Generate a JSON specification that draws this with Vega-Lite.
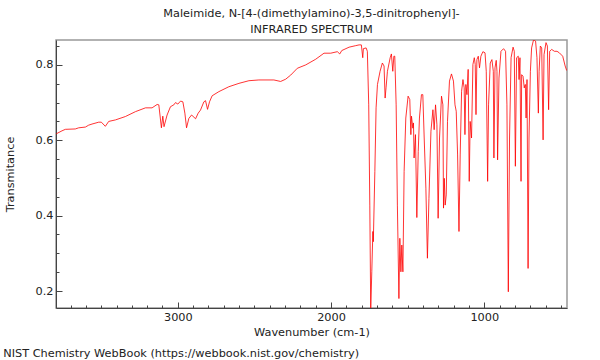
{
  "$schema": "https://vega.github.io/schema/vega-lite/v6.json",
  "autosize": {"type": "pad"},
  "padding": {"left": 3, "top": 6, "right": 5, "bottom": 2},
  "background": "white",
  "config": {"font": "DejaVu Sans", "view": {"stroke": "#999", "strokeWidth": 1.5}},
  "title": {"text": "NIST Chemistry WebBook (https://webbook.nist.gov/chemistry)", "orient": "bottom", "anchor": "start", "frame": "bounds", "fontSize": 11.3, "fontWeight": "normal", "color": "#222", "offset": 10},
  "vconcat": [
    {
      "width": 511,
      "height": 268,
      "title": {"text": ["Maleimide, N-[4-(dimethylamino)-3,5-dinitrophenyl]-", "INFRARED SPECTRUM"], "fontSize": 11.3, "fontWeight": "normal", "lineHeight": 16, "offset": 5, "anchor": "middle", "color": "#222"},
      "data": {"values": [
        {"w": 3794, "t": 0.617}, {"w": 3756, "t": 0.625}, {"w": 3734, "t": 0.629}, {"w": 3669, "t": 0.630},
        {"w": 3647, "t": 0.633}, {"w": 3603, "t": 0.635}, {"w": 3582, "t": 0.640}, {"w": 3560, "t": 0.643},
        {"w": 3516, "t": 0.648}, {"w": 3499, "t": 0.648}, {"w": 3473, "t": 0.637}, {"w": 3451, "t": 0.650},
        {"w": 3407, "t": 0.654}, {"w": 3342, "t": 0.663}, {"w": 3276, "t": 0.676}, {"w": 3211, "t": 0.686},
        {"w": 3168, "t": 0.686}, {"w": 3135, "t": 0.695}, {"w": 3124, "t": 0.694}, {"w": 3107, "t": 0.633},
        {"w": 3098, "t": 0.664}, {"w": 3090, "t": 0.636}, {"w": 3070, "t": 0.667}, {"w": 3048, "t": 0.689},
        {"w": 3026, "t": 0.694}, {"w": 3015, "t": 0.700}, {"w": 3000, "t": 0.696}, {"w": 2982, "t": 0.704},
        {"w": 2967, "t": 0.702}, {"w": 2954, "t": 0.672}, {"w": 2943, "t": 0.633}, {"w": 2928, "t": 0.658},
        {"w": 2910, "t": 0.667}, {"w": 2884, "t": 0.657}, {"w": 2867, "t": 0.672}, {"w": 2852, "t": 0.680},
        {"w": 2830, "t": 0.702}, {"w": 2819, "t": 0.705}, {"w": 2806, "t": 0.682}, {"w": 2793, "t": 0.702},
        {"w": 2776, "t": 0.718}, {"w": 2732, "t": 0.729}, {"w": 2667, "t": 0.742}, {"w": 2601, "t": 0.751},
        {"w": 2536, "t": 0.758}, {"w": 2471, "t": 0.760}, {"w": 2373, "t": 0.760}, {"w": 2329, "t": 0.756},
        {"w": 2296, "t": 0.762}, {"w": 2263, "t": 0.773}, {"w": 2220, "t": 0.791}, {"w": 2165, "t": 0.800},
        {"w": 2100, "t": 0.815}, {"w": 2046, "t": 0.831}, {"w": 2002, "t": 0.831}, {"w": 1959, "t": 0.835},
        {"w": 1943, "t": 0.829}, {"w": 1930, "t": 0.838}, {"w": 1882, "t": 0.847}, {"w": 1839, "t": 0.851},
        {"w": 1817, "t": 0.853}, {"w": 1802, "t": 0.853}, {"w": 1793, "t": 0.819}, {"w": 1789, "t": 0.843},
        {"w": 1771, "t": 0.845}, {"w": 1763, "t": 0.836}, {"w": 1754, "t": 0.694}, {"w": 1747, "t": 0.428},
        {"w": 1741, "t": 0.149}, {"w": 1734, "t": 0.251}, {"w": 1727, "t": 0.358}, {"w": 1724, "t": 0.331},
        {"w": 1714, "t": 0.517}, {"w": 1706, "t": 0.686}, {"w": 1697, "t": 0.748}, {"w": 1680, "t": 0.783},
        {"w": 1665, "t": 0.805}, {"w": 1654, "t": 0.797}, {"w": 1647, "t": 0.712}, {"w": 1641, "t": 0.739},
        {"w": 1632, "t": 0.783}, {"w": 1614, "t": 0.819}, {"w": 1606, "t": 0.829}, {"w": 1597, "t": 0.783},
        {"w": 1590, "t": 0.823}, {"w": 1584, "t": 0.823}, {"w": 1575, "t": 0.694}, {"w": 1567, "t": 0.428},
        {"w": 1557, "t": 0.180}, {"w": 1551, "t": 0.340}, {"w": 1544, "t": 0.251}, {"w": 1538, "t": 0.322},
        {"w": 1531, "t": 0.251}, {"w": 1523, "t": 0.517}, {"w": 1512, "t": 0.659}, {"w": 1497, "t": 0.717},
        {"w": 1486, "t": 0.708}, {"w": 1479, "t": 0.615}, {"w": 1475, "t": 0.664}, {"w": 1466, "t": 0.632},
        {"w": 1462, "t": 0.646}, {"w": 1458, "t": 0.553}, {"w": 1449, "t": 0.615}, {"w": 1440, "t": 0.395},
        {"w": 1431, "t": 0.570}, {"w": 1423, "t": 0.659}, {"w": 1410, "t": 0.721}, {"w": 1401, "t": 0.721},
        {"w": 1392, "t": 0.606}, {"w": 1381, "t": 0.473}, {"w": 1371, "t": 0.287}, {"w": 1361, "t": 0.446},
        {"w": 1348, "t": 0.624}, {"w": 1335, "t": 0.681}, {"w": 1327, "t": 0.628}, {"w": 1318, "t": 0.694},
        {"w": 1309, "t": 0.641}, {"w": 1301, "t": 0.393}, {"w": 1292, "t": 0.606}, {"w": 1279, "t": 0.717},
        {"w": 1270, "t": 0.694}, {"w": 1266, "t": 0.420}, {"w": 1261, "t": 0.499}, {"w": 1255, "t": 0.428},
        {"w": 1248, "t": 0.455}, {"w": 1240, "t": 0.650}, {"w": 1227, "t": 0.757}, {"w": 1214, "t": 0.776},
        {"w": 1201, "t": 0.757}, {"w": 1191, "t": 0.694}, {"w": 1183, "t": 0.677}, {"w": 1174, "t": 0.561},
        {"w": 1165, "t": 0.358}, {"w": 1157, "t": 0.561}, {"w": 1148, "t": 0.730}, {"w": 1139, "t": 0.761},
        {"w": 1131, "t": 0.739}, {"w": 1126, "t": 0.615}, {"w": 1120, "t": 0.748}, {"w": 1113, "t": 0.721},
        {"w": 1105, "t": 0.788}, {"w": 1098, "t": 0.491}, {"w": 1092, "t": 0.650}, {"w": 1083, "t": 0.606},
        {"w": 1074, "t": 0.801}, {"w": 1065, "t": 0.819}, {"w": 1059, "t": 0.801}, {"w": 1054, "t": 0.668},
        {"w": 1048, "t": 0.814}, {"w": 1039, "t": 0.823}, {"w": 1031, "t": 0.792}, {"w": 1022, "t": 0.823},
        {"w": 1009, "t": 0.835}, {"w": 995, "t": 0.832}, {"w": 987, "t": 0.783}, {"w": 978, "t": 0.491},
        {"w": 972, "t": 0.694}, {"w": 961, "t": 0.805}, {"w": 950, "t": 0.814}, {"w": 941, "t": 0.783},
        {"w": 937, "t": 0.553}, {"w": 930, "t": 0.792}, {"w": 922, "t": 0.812}, {"w": 917, "t": 0.783},
        {"w": 913, "t": 0.548}, {"w": 904, "t": 0.765}, {"w": 891, "t": 0.836}, {"w": 874, "t": 0.843},
        {"w": 861, "t": 0.836}, {"w": 852, "t": 0.694}, {"w": 843, "t": 0.198}, {"w": 835, "t": 0.606},
        {"w": 825, "t": 0.819}, {"w": 812, "t": 0.847}, {"w": 804, "t": 0.836}, {"w": 797, "t": 0.531},
        {"w": 789, "t": 0.819}, {"w": 778, "t": 0.823}, {"w": 773, "t": 0.761}, {"w": 767, "t": 0.819},
        {"w": 760, "t": 0.491}, {"w": 756, "t": 0.774}, {"w": 747, "t": 0.770}, {"w": 739, "t": 0.739},
        {"w": 732, "t": 0.748}, {"w": 727, "t": 0.659}, {"w": 721, "t": 0.761}, {"w": 714, "t": 0.260},
        {"w": 708, "t": 0.606}, {"w": 699, "t": 0.783}, {"w": 691, "t": 0.845}, {"w": 678, "t": 0.867},
        {"w": 665, "t": 0.863}, {"w": 656, "t": 0.819}, {"w": 647, "t": 0.672}, {"w": 642, "t": 0.783},
        {"w": 634, "t": 0.850}, {"w": 625, "t": 0.845}, {"w": 616, "t": 0.601}, {"w": 610, "t": 0.827},
        {"w": 597, "t": 0.859}, {"w": 588, "t": 0.850}, {"w": 580, "t": 0.681}, {"w": 573, "t": 0.836},
        {"w": 560, "t": 0.841}, {"w": 542, "t": 0.836}, {"w": 525, "t": 0.836}, {"w": 510, "t": 0.832},
        {"w": 488, "t": 0.823}, {"w": 472, "t": 0.797}, {"w": 462, "t": 0.785}
      ]},
      "mark": {"type": "line", "color": "#ff0000", "strokeWidth": 0.8, "clip": true},
      "encoding": {
        "x": {
          "field": "w", "type": "quantitative",
          "scale": {"domain": [460, 3795], "reverse": true, "nice": false, "zero": false},
          "axis": {
            "title": "Wavenumber (cm-1)",
            "values": [500,600,700,800,900,1000,1100,1200,1300,1400,1500,1600,1700,1800,1900,2000,2100,2200,2300,2400,2500,2600,2700,2800,2900,3000,3100,3200,3300,3400,3500,3600,3700],
            "labelExpr": "datum.value % 1000 === 0 ? format(datum.value, 'd') : ''",
            "tickSize": {"condition": {"test": "datum.value % 1000 === 0", "value": -6}, "value": -3},
            "labelPadding": 9,
            "labelOverlap": false,
            "labelFlush": false,
            "grid": false,
            "domainColor": "#444",
            "tickColor": "#444",
            "labelColor": "#222",
            "labelFontSize": 11.3,
            "titleFontSize": 11.3,
            "titleFontWeight": "normal",
            "titleColor": "#222",
            "titlePadding": 1
          }
        },
        "y": {
          "field": "t", "type": "quantitative",
          "scale": {"domain": [0.155, 0.866], "nice": false, "zero": false},
          "axis": {
            "title": "Transmitance",
            "values": [0.2,0.25,0.3,0.35,0.4,0.45,0.5,0.55,0.6,0.65,0.7,0.75,0.8,0.85],
            "labelExpr": "round(datum.value*100) % 20 === 0 ? format(datum.value, '.1f') : ''",
            "tickSize": {"condition": {"test": "round(datum.value*100) % 20 === 0", "value": -6}, "value": -3},
            "labelPadding": 9,
            "labelOverlap": false,
            "labelFlush": false,
            "grid": false,
            "domainColor": "#444",
            "tickColor": "#444",
            "labelColor": "#222",
            "labelFontSize": 11.3,
            "titleFontSize": 11.3,
            "titleFontWeight": "normal",
            "titleColor": "#222",
            "titlePadding": 20
          }
        }
      }
    }
  ]
}
